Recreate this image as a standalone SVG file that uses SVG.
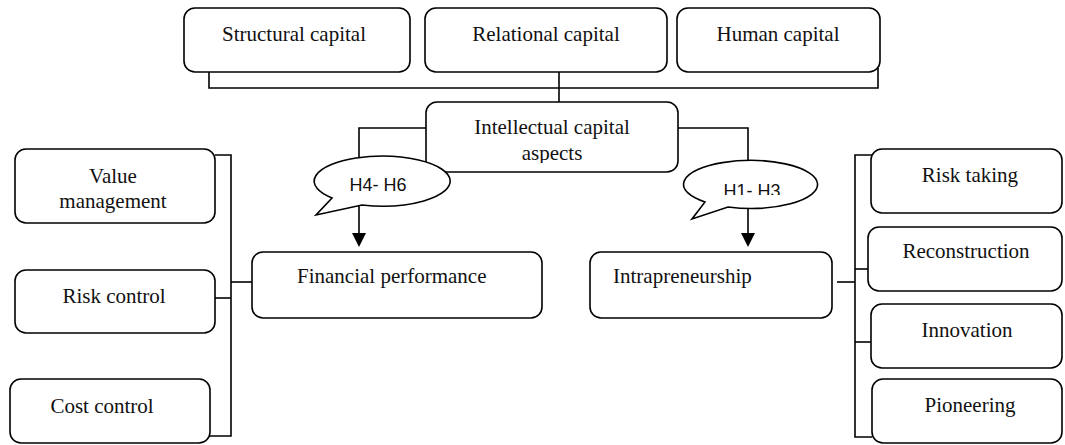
<svg xmlns="http://www.w3.org/2000/svg" width="1065" height="445" viewBox="0 0 1065 445">
<style>
.box{fill:#fff;stroke:#000;stroke-width:1.6}
.t{font-family:"Liberation Serif","Times New Roman",serif;font-size:21px;fill:#111}
.h{font-family:"Liberation Sans",Arial,sans-serif;font-size:18px;fill:#111}
.ln{fill:none;stroke:#000;stroke-width:1.6}
.bub{fill:#fff;stroke:#000;stroke-width:1.6}
</style>
<defs>
<clipPath id="clipIC"><rect x="426" y="102" width="252" height="61"/></clipPath>
<clipPath id="clipH13"><rect x="680" y="160" width="140" height="35"/></clipPath>
</defs>
<rect width="1065" height="445" fill="#fff"/>
<g id="connectors">
<path class="ln" d="M209,68 V88 H878 V68"/>
<path class="ln" d="M559,72 V102"/>
<path class="ln" d="M431,128 H359 V233"/>
<path d="M352,233 L366,233 L359,247 z" fill="#000"/>
<path class="ln" d="M674,128 H748 V233"/>
<path d="M741,233 L755,233 L748,247 z" fill="#000"/>
<path class="ln" d="M215,155 H231 V436 H209"/>
<path class="ln" d="M231,282 H252"/>
<path class="ln" d="M208,298 H231"/>
<path class="ln" d="M879,155 H855 V437 H872"/>
<path class="ln" d="M837,282 H855"/>
<path class="ln" d="M855,269 H872"/>
<path class="ln" d="M855,342 H873"/>
</g>
<g id="structural"><rect class="box" x="184" y="8" width="226" height="64" rx="11"/><text class="t" x="294" y="41" text-anchor="middle">Structural capital</text></g>
<g id="relational"><rect class="box" x="425" y="8" width="242" height="64" rx="11"/><text class="t" x="546" y="41" text-anchor="middle">Relational capital</text></g>
<g id="human"><rect class="box" x="677" y="8" width="203" height="64" rx="11"/><text class="t" x="778" y="41" text-anchor="middle">Human capital</text></g>
<g id="intellectual"><rect class="box" x="426" y="102" width="252" height="70" rx="11"/><g clip-path="url(#clipIC)"><text class="t" x="552" y="134" text-anchor="middle">Intellectual capital</text><text class="t" x="552" y="160" text-anchor="middle">aspects</text></g></g>
<g id="h46"><path class="bub" d="M332,198 A68,25 0 1 1 362,205 L316,215 Z"/><text class="h" x="378" y="191" text-anchor="middle">H4- H6</text></g>
<g id="h13"><path class="bub" d="M705,202 A67,24 0 1 1 728,207 L692,219 Z"/><g clip-path="url(#clipH13)"><text class="h" x="752" y="197" text-anchor="middle">H1- H3</text></g></g>
<g id="financial"><rect class="box" x="252" y="252" width="290" height="66" rx="11"/><text class="t" x="297" y="283">Financial performance</text></g>
<g id="intrapreneurship"><rect class="box" x="590" y="252" width="242" height="66" rx="11"/><text class="t" x="613" y="283">Intrapreneurship</text></g>
<g id="value"><rect class="box" x="15" y="149" width="200" height="74" rx="11"/><text class="t" x="113" y="183" text-anchor="middle">Value</text><text class="t" x="113" y="208" text-anchor="middle">management</text></g>
<g id="riskcontrol"><rect class="box" x="15" y="270" width="200" height="63" rx="11"/><text class="t" x="114" y="303" text-anchor="middle">Risk control</text></g>
<g id="costcontrol"><rect class="box" x="10" y="379" width="200" height="64" rx="11"/><text class="t" x="102" y="413" text-anchor="middle">Cost control</text></g>
<g id="risktaking"><rect class="box" x="871" y="149" width="191" height="64" rx="11"/><text class="t" x="970" y="182" text-anchor="middle">Risk taking</text></g>
<g id="reconstruction"><rect class="box" x="868" y="227" width="194" height="64" rx="11"/><text class="t" x="966" y="258" text-anchor="middle">Reconstruction</text></g>
<g id="innovation"><rect class="box" x="871" y="304" width="191" height="64" rx="11"/><text class="t" x="967" y="337" text-anchor="middle">Innovation</text></g>
<g id="pioneering"><rect class="box" x="872" y="379" width="190" height="64" rx="11"/><text class="t" x="970" y="412" text-anchor="middle">Pioneering</text></g>
</svg>
